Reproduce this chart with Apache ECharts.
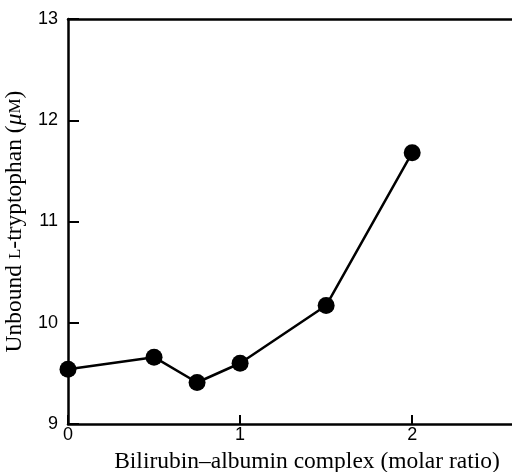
<!DOCTYPE html>
<html>
<head>
<meta charset="utf-8">
<script src="https://cdn.jsdelivr.net/npm/echarts@6/dist/echarts.min.js"></script>
<style>
  html, body { margin: 0; padding: 0; background: #fff; }
  #chart { width: 512px; height: 472px; }
</style>
</head>
<body>
<div id="chart"></div>
<script>
// molar ratio of bilirubin-albumin complex
const ratios = [0, 0.5, 0.75, 1, 1.5, 2];
// unbound L-tryptophan, uM
const tryptophan = [9.54, 9.66, 9.41, 9.6, 10.17, 11.68];
const xTicks = [0, 1, 2];
const yTicks = [9, 10, 11, 12, 13];

const ink = '#000';
const serif = '"Liberation Serif", "DejaVu Serif", serif';
const sans = '"Liberation Sans", Arial, sans-serif';

const chart = echarts.init(document.getElementById('chart'));

chart.setOption({
  animation: false,
  grid: {
    left: 68,
    right: 0,
    top: 19,
    bottom: 48,
    containLabel: false,
    outerBoundsMode: 'none',
  },
  xAxis: [
    {
      type: 'value',
      min: 0,
      max: 2.58,
      interval: 1,
      axisLine: { lineStyle: { color: ink, width: 2.5 } },
      axisTick: {
        inside: true,
        length: 9,
        customValues: xTicks,
        lineStyle: { color: ink, width: 2 },
      },
      splitLine: { show: false },
      axisLabel: {
        color: ink,
        fontFamily: sans,
        fontSize: 18,
        margin: 2,
        customValues: xTicks,
      },
      name: 'Bilirubin\u2013albumin complex (molar ratio)',
      nameLocation: 'middle',
      nameGap: 26,
      nameTextStyle: {
        color: ink,
        fontFamily: serif,
        fontSize: 23.5,
        padding: [0, 0, 0, 34],
      },
    },
    {
      type: 'value',
      position: 'top',
      min: 0,
      max: 2.58,
      axisLine: { lineStyle: { color: ink, width: 2.5 } },
      axisTick: { show: false },
      axisLabel: { show: false },
      splitLine: { show: false },
    },
  ],
  yAxis: {
    type: 'value',
    min: 9,
    max: 13,
    interval: 1,
    axisLine: { show: true, lineStyle: { color: ink, width: 2.5 } },
    axisTick: { inside: true, length: 11, lineStyle: { color: ink, width: 2 } },
    splitLine: { show: false },
    axisLabel: {
      color: ink,
      fontFamily: sans,
      fontSize: 18,
      margin: 10,
      customValues: yTicks,
    },
    name: 'Unbound {sc|L}-tryptophan ({mu|\u03bc}{sc|M})',
    nameLocation: 'middle',
    nameGap: 31,
    nameTextStyle: {
      color: ink,
      fontFamily: serif,
      fontSize: 23.5,
      rich: {
        sc: { fontFamily: serif, fontSize: 17, color: ink },
        mu: { fontFamily: serif, fontSize: 23.5, fontStyle: 'italic', color: ink },
      },
    },
  },
  series: [
    {
      type: 'line',
      data: ratios.map((r, i) => [r, tryptophan[i]]),
      symbol: 'circle',
      symbolSize: 17,
      lineStyle: { color: ink, width: 2.5 },
      itemStyle: { color: ink },
      clip: false,
    },
  ],
});
</script>
</body>
</html>
